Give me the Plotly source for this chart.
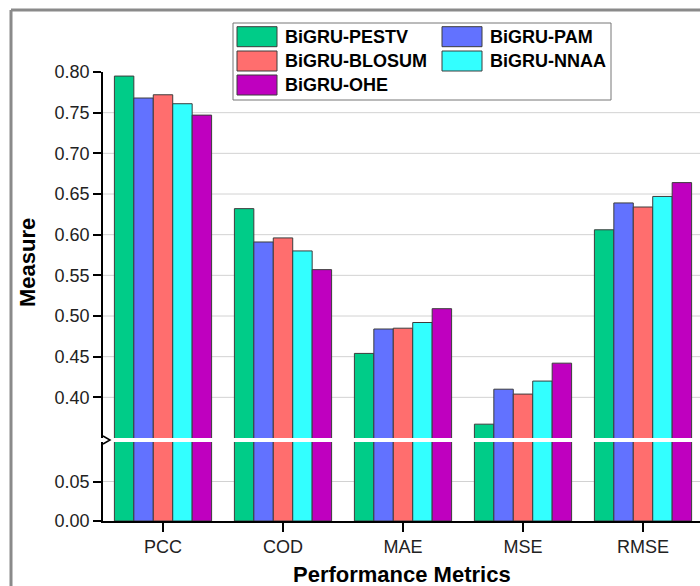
import plotly.graph_objects as go

categories = ["PCC", "COD", "MAE", "MSE", "RMSE"]
series_names = ["BiGRU-PESTV", "BiGRU-PAM", "BiGRU-BLOSUM", "BiGRU-NNAA", "BiGRU-OHE"]
pestv = [0.795, 0.632, 0.454, 0.367, 0.606]
pam = [0.768, 0.591, 0.484, 0.410, 0.639]
blosum = [0.772, 0.596, 0.485, 0.404, 0.634]
nnaa = [0.761, 0.580, 0.492, 0.420, 0.647]
ohe = [0.747, 0.557, 0.509, 0.442, 0.664]
series_values = [pestv, pam, blosum, nnaa, ohe]
colors = ["#00CC88", "#6272FF", "#FF6E6E", "#33FFFF", "#BF00BF"]

upper_ticks = [0.40, 0.45, 0.50, 0.55, 0.60, 0.65, 0.70, 0.75, 0.80]
lower_ticks = [0.00, 0.05]

FONT = "Arial, 'Liberation Sans', sans-serif"
W, H = 700, 586
L, R, T, B = 103, 700, 72, 521
PW, PH = R - L, B - T


def px(x):
    return (x - L) / PW


def py(y):
    return (B - y) / PH


fig = go.Figure()
for name, vals, col in zip(series_names, series_values, colors):
    for xa, ya in (("x", "y"), ("x2", "y2")):
        fig.add_trace(go.Bar(
            x=categories, y=vals, name=name, xaxis=xa, yaxis=ya,
            marker=dict(color=col, line=dict(color="#3c3c3c", width=1)),
            showlegend=False, legendgroup=name,
        ))

lower_dom = [0, py(442)]
upper_dom = [py(438), 1]

fig.update_layout(
    width=W, height=H,
    margin=dict(l=L, r=W - R, t=T, b=H - B),
    paper_bgcolor="white", plot_bgcolor="white",
    barmode="group", bargap=0.19, bargroupgap=0,
    showlegend=False,
    font=dict(family=FONT, color="#111"),
    xaxis=dict(
        domain=[0, 1], anchor="y", range=[-0.5, 4.475],
        showline=True, linecolor="black", linewidth=1.5,
        ticks="outside", ticklen=9, tickcolor="black", tickwidth=1.5,
        tickfont=dict(size=18, family=FONT, color="#222"),
        showgrid=False, zeroline=False,
    ),
    xaxis2=dict(
        domain=[0, 1], anchor="y2", matches="x", range=[-0.5, 4.475],
        showticklabels=False, showline=False, ticks="", showgrid=False, zeroline=False,
    ),
    yaxis=dict(
        domain=lower_dom, anchor="x", range=[0, 0.1],
        tickvals=lower_ticks, ticktext=[f"{v:.2f}" for v in lower_ticks],
        showline=True, linecolor="black", linewidth=1.5,
        ticks="outside", ticklen=8, tickcolor="black", tickwidth=1.5,
        tickfont=dict(size=18, family=FONT, color="#222"),
        showgrid=True, gridcolor="#d2d2d2", gridwidth=1, zeroline=False,
    ),
    yaxis2=dict(
        domain=upper_dom, anchor="x2", range=[0.35, 0.80],
        tickvals=upper_ticks, ticktext=[f"{v:.2f}" for v in upper_ticks],
        showline=True, linecolor="black", linewidth=1.5,
        ticks="outside", ticklen=8, tickcolor="black", tickwidth=1.5,
        tickfont=dict(size=18, family=FONT, color="#222"),
        showgrid=False, zeroline=False,
    ),
)

shapes = []
for v in upper_ticks[:-1]:
    shapes.append(dict(type="line", xref="paper", yref="y2", x0=0, x1=1, y0=v, y1=v,
                       line=dict(color="#d2d2d2", width=1), layer="below"))
shapes.append(dict(type="path", xref="paper", yref="paper",
                   path=f"M {px(103)},{py(436)} L {px(110)},{py(440)} L {px(103)},{py(444)}",
                   line=dict(color="black", width=1.5)))
shapes.append(dict(type="line", xref="paper", yref="paper", x0=px(11), x1=px(705), y0=py(10), y1=py(10),
                   line=dict(color="#8a8a8a", width=3)))
shapes.append(dict(type="line", xref="paper", yref="paper", x0=px(11), x1=px(11), y0=py(10), y1=py(600),
                   line=dict(color="#8a8a8a", width=3)))
shapes.append(dict(type="rect", xref="paper", yref="paper", x0=px(233), x1=px(611), y0=py(23), y1=py(100),
                   line=dict(color="#777", width=1), fillcolor="white"))

annotations = []
legend_pos = [(237, 36.7), (442, 36.7), (237, 61), (442, 61), (237, 85)]
for (lx, ly), name, col in zip(legend_pos, series_names, colors):
    shapes.append(dict(type="rect", xref="paper", yref="paper",
                       x0=px(lx), x1=px(lx + 40), y0=py(ly - 10), y1=py(ly + 10),
                       line=dict(color="#3c3c3c", width=1), fillcolor=col))
    annotations.append(dict(x=px(lx + 46), y=py(ly), xref="paper", yref="paper",
                            text=f"<b>{name}</b>", showarrow=False, xanchor="left", yanchor="middle",
                            font=dict(size=18, family=FONT, color="black")))

annotations.append(dict(x=px(27), y=py(263), xref="paper", yref="paper", text="<b>Measure</b>",
                        textangle=-90, showarrow=False, xanchor="center", yanchor="middle",
                        font=dict(size=22, family=FONT, color="black")))
annotations.append(dict(x=px(402), y=py(574), xref="paper", yref="paper", text="<b>Performance Metrics</b>",
                        showarrow=False, xanchor="center", yanchor="middle",
                        font=dict(size=22, family=FONT, color="black")))

fig.update_layout(shapes=shapes, annotations=annotations)
fig.write_html("out.html",
               config={"displayModeBar": False},
               post_script="document.body.style.margin='0';document.body.style.padding='0';"
                           "document.body.style.overflow='hidden';")
